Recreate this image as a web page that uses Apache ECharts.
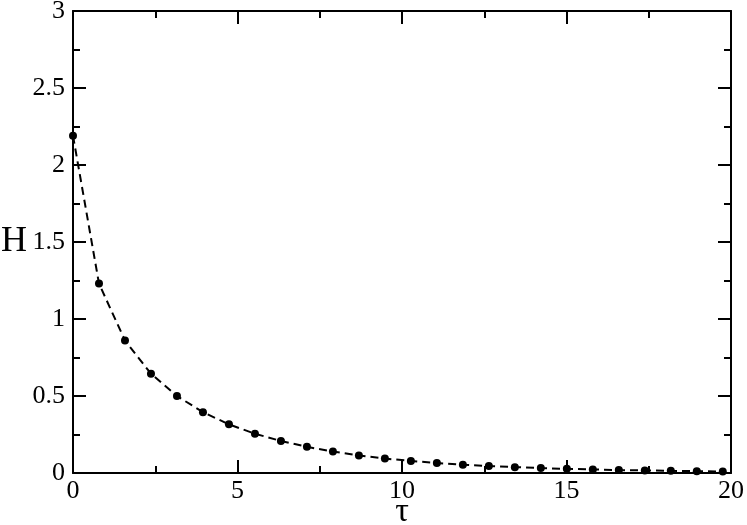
<!DOCTYPE html>
<html>
<head>
<meta charset="utf-8">
<script src="https://cdn.jsdelivr.net/npm/echarts@6/dist/echarts.min.js"></script>
<style>html,body{margin:0;padding:0;background:#fff;}#c{width:747px;height:525px;}</style>
</head>
<body>
<div id="c"></div>
<script>
const tau = [0, 0.79, 1.58, 2.37, 3.16, 3.95, 4.74, 5.53, 6.32, 7.11, 7.90, 8.69, 9.48, 10.27, 11.06, 11.85, 12.64, 13.43, 14.22, 15.01, 15.80, 16.59, 17.38, 18.17, 18.96, 19.75];
const H = [2.19, 1.23, 0.86, 0.645, 0.50, 0.395, 0.316, 0.255, 0.208, 0.170, 0.139, 0.114, 0.094, 0.078, 0.065, 0.054, 0.045, 0.038, 0.032, 0.027, 0.023, 0.019, 0.017, 0.014, 0.012, 0.010];

const font = 'Liberation Serif';
const axisCommon = {
  axisLine: {show: true, onZero: false, lineStyle: {color: '#000', width: 2}},
  axisTick: {show: true, inside: true, length: 13, lineStyle: {color: '#000', width: 2}},
  minorTick: {show: true, splitNumber: 2, length: 7, lineStyle: {color: '#000', width: 2}},
  splitLine: {show: false},
  minorSplitLine: {show: false}
};
const chart = echarts.init(document.getElementById('c'));
chart.setOption({
  animation: false,
  backgroundColor: '#fff',
  grid: {left: 73, right: 16, top: 11, bottom: 52, containLabel: false, outerBoundsMode: 'none'},
  xAxis: [
    Object.assign({type: 'value', min: 0, max: 20, interval: 5, position: 'bottom',
      name: 'τ', nameLocation: 'middle', nameGap: 22, nameMoveOverlap: false,
      nameTextStyle: {fontFamily: font, fontSize: 34, color: '#000'},
      axisLabel: {fontFamily: font, fontSize: 26, color: '#000', margin: 5}}, axisCommon),
    Object.assign({type: 'value', min: 0, max: 20, interval: 5, position: 'top',
      axisLabel: {show: false}}, axisCommon)
  ],
  yAxis: [
    Object.assign({type: 'value', min: 0, max: 3, interval: 0.5, position: 'left',
      name: 'H', nameLocation: 'middle', nameGap: 46, nameRotate: 0, nameMoveOverlap: false,
      nameTextStyle: {fontFamily: font, fontSize: 36, color: '#000'},
      axisLabel: {fontFamily: font, fontSize: 26, color: '#000', margin: 8}}, axisCommon),
    Object.assign({type: 'value', min: 0, max: 3, interval: 0.5, position: 'right',
      axisLabel: {show: false}}, axisCommon)
  ],
  series: [{
    type: 'line',
    xAxisIndex: 0, yAxisIndex: 0,
    data: tau.map((t, i) => [t, H[i]]),
    symbol: 'circle', symbolSize: 8,
    itemStyle: {color: '#000'},
    lineStyle: {color: '#000', width: 2, type: [8, 5]},
    clip: false
  }]
});
</script>
</body>
</html>
